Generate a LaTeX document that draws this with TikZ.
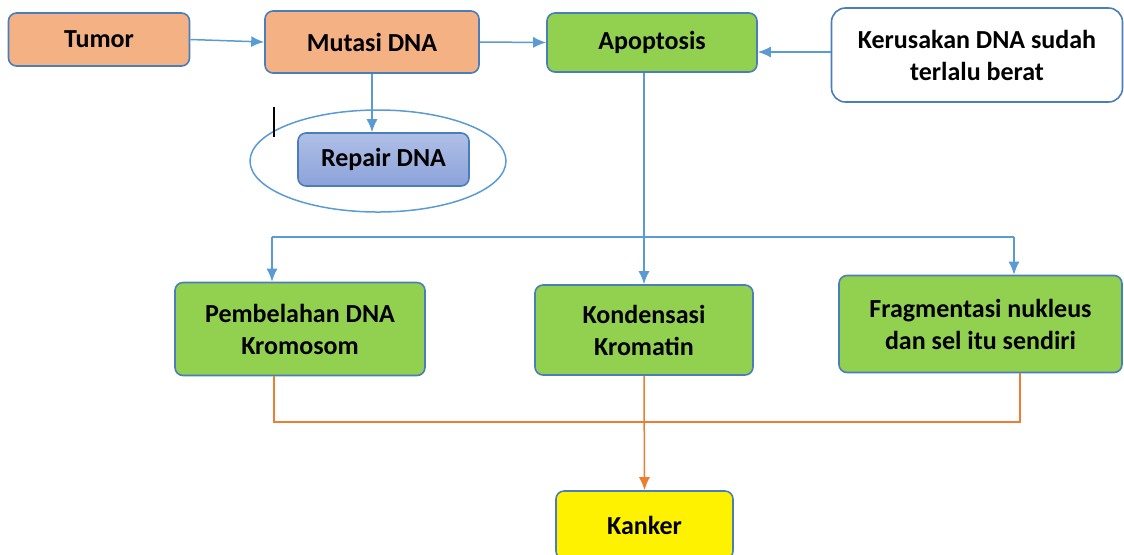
\documentclass[tikz,border=0pt]{standalone}
\usepackage{fontspec}
\setmainfont{Carlito}
\usetikzlibrary{arrows.meta}

\definecolor{oranye}{HTML}{F4B183}
\definecolor{hijau}{HTML}{92D050}
\definecolor{garis}{HTML}{4A7EBB}
\definecolor{panahbiru}{HTML}{5B9BD5}
\definecolor{panahoranye}{HTML}{ED7D31}
\definecolor{biruatas}{HTML}{AFBFE6}
\definecolor{birubawah}{HTML}{8CA3DA}

\begin{document}
\begin{tikzpicture}[x=0.5pt,y=-0.5pt,
  kotak/.style={draw=garis,line width=0.8pt,rounded corners=4pt,align=center,
    font=\fontsize{13}{16}\selectfont\bfseries,inner sep=0pt},
  biru/.style={draw=panahbiru,line width=0.75pt,-{Latex[length=6.5pt,width=5.5pt]}},
  oranye/.style={draw=panahoranye,line width=0.75pt}]
\useasboundingbox (0,0) rectangle (1124,554);

% baris atas
\node[kotak,fill=oranye,minimum width=90.5pt,minimum height=26.5pt] (tumor) at (99,39.5) {Tumor};
\node[kotak,fill=oranye,minimum width=107pt,minimum height=31pt] (mutasi) at (372,42) {Mutasi DNA};
\node[kotak,fill=hijau,minimum width=105pt,minimum height=29.5pt] (apop) at (652,42.5) {Apoptosis};
\node[kotak,fill=white,rounded corners=7pt,minimum width=145.5pt,minimum height=47pt] (rusak) at (977,55) {Kerusakan DNA sudah\\terlalu berat};

% repair
\draw[panahbiru,line width=0.75pt] (378,161) ellipse[x radius=128,y radius=51];
\node[kotak,top color=biruatas,bottom color=birubawah,
  minimum width=85.5pt,minimum height=26.5pt] (repair) at (383.5,159.5) {Repair DNA};
\draw[black,line width=0.6pt] (274,107) -- (274,137);

% baris tengah
\node[kotak,fill=hijau,minimum width=125pt,minimum height=46.5pt] (pemb) at (300,329) {Pembelahan DNA\\Kromosom};
\node[kotak,fill=hijau,minimum width=109pt,minimum height=45pt] (kond) at (644,330) {Kondensasi\\Kromatin};
\node[kotak,fill=hijau,minimum width=141.5pt,minimum height=48.5pt] (frag) at (980.5,324) {Fragmentasi nukleus\\dan sel itu sendiri};

% kanker
\node[kotak,fill=yellow,minimum width=88.5pt,minimum height=34pt] (kanker) at (644.5,525) {Kanker};

% panah atas
\draw[biru] (tumor.east) -- (mutasi.west);
\draw[biru] (mutasi.east) -- (apop.west);
\draw[biru] ([yshift=1.5pt]rusak.west) -- ([yshift=1.5pt]rusak.west -| apop.east);
\draw[biru] (mutasi.south) -- (mutasi.south |- repair.north);

% cabang apoptosis
\coordinate (kiri) at (272,237);
\coordinate (kanan) at (1014,237);
\draw[biru] (kond.north |- apop.south) -- (kond.north);
\draw[panahbiru,line width=0.75pt] (kiri) -- (kanan);
\draw[biru] (kiri) -- (kiri |- pemb.north);
\draw[biru] (kanan) -- (kanan |- frag.north);

% menuju kanker
\coordinate (okiri) at (274,422);
\coordinate (okanan) at (1020,422);
\draw[oranye] (okiri |- pemb.south) -- (okiri) -- (okanan) -- (okanan |- frag.south);
\draw[oranye,-{Latex[length=6.5pt,width=5.5pt]}] (kond.south) -- (kanker.north);

\end{tikzpicture}
\end{document}
